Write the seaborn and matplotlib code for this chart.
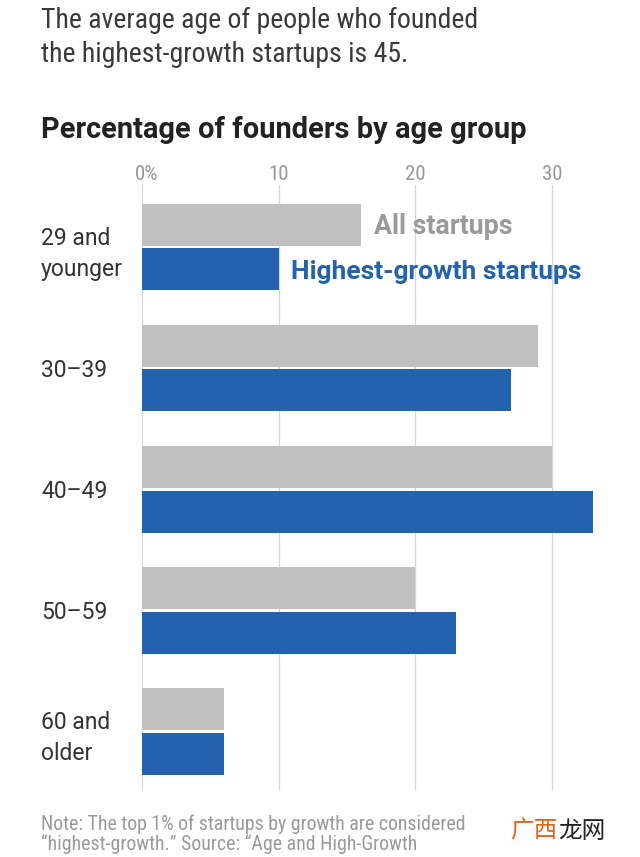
import matplotlib
matplotlib.use("Agg")
import matplotlib.pyplot as plt
from matplotlib.transforms import ScaledTranslation
import seaborn as sns
import pandas as pd

# ---- data ----
age_groups = ["29 and\nyounger", "30–39", "40–49", "50–59", "60 and\nolder"]
series_names = ["All startups", "Highest-growth startups"]
all_startups = [16, 29, 30, 20, 6]
highest_growth = [10, 27, 33, 23, 6]
x_ticks = [0, 10, 20, 30]
x_tick_labels = ["0%", "10", "20", "30"]

df = pd.DataFrame({
    "group": age_groups * 2,
    "series": [series_names[0]] * len(age_groups) + [series_names[1]] * len(age_groups),
    "value": all_startups + highest_growth,
})

sns.set_theme(style="white")
COND = ["Roboto Condensed", "DejaVu Sans"]
WIDE = ["Roboto", "DejaVu Sans"]
plt.rcParams["font.family"] = COND

GRAY = "#c0c0c0"
BLUE = "#2362ad"

W, H = 640, 857
fig = plt.figure(figsize=(W / 100, H / 100), dpi=100)

px_per_unit = 13.67
xmax = 34
ax = fig.add_axes([142 / W, 1 - 790 / H, xmax * px_per_unit / W, (790 - 185) / H])

sns.barplot(data=df, y="group", x="value", hue="series", orient="h",
            palette=[GRAY, BLUE], saturation=1, width=0.735, gap=0.056,
            legend=False, ax=ax, linewidth=0)

ax.set_xlim(0, xmax)
ax.set_ylim(4.483, -0.512)
ax.set_xlabel("")
ax.set_ylabel("")
for s in ax.spines.values():
    s.set_visible(False)

ax.set_xticks(x_ticks)
ax.set_xticklabels(x_tick_labels)
ax.xaxis.tick_top()
ax.tick_params(axis="x", length=0, pad=0.5, labelsize=15, labelcolor="#999999")
ax.grid(axis="x", color="#d6d6d6", linewidth=0.9)
ax.grid(axis="y", visible=False)
ax.set_axisbelow(True)

lbl0 = ax.get_xticklabels()[0]
lbl0.set_horizontalalignment("left")
lbl0.set_transform(lbl0.get_transform() + ScaledTranslation(-5 / 72, 0, fig.dpi_scale_trans))

ax.tick_params(axis="y", length=0, pad=(142 - 41) * 0.72, labelsize=16.5, labelcolor="#333333")
for t in ax.get_yticklabels():
    t.set_horizontalalignment("left")
    t.set_linespacing(1.45)
    t.set_family(WIDE)

# in-plot series labels next to the first group's bars
ax.annotate(series_names[0], xy=(all_startups[0], 0 - 0.1875), xytext=(1.0 * px_per_unit * 0.72, -6.8),
            textcoords="offset points", va="baseline", ha="left", fontsize=19.3,
            fontweight="bold", color="#9a9a9a", family=WIDE)
ax.annotate(series_names[1], xy=(highest_growth[0], 0 + 0.1875), xytext=(0.9 * px_per_unit * 0.72, -6.8),
            textcoords="offset points", va="baseline", ha="left", fontsize=19.0,
            fontweight="bold", color=BLUE, family=WIDE)

# titles
fig.text(41 / W, 1 - 28 / H, "The average age of people who founded", fontsize=20,
         color="#3a3a3a", va="baseline", ha="left")
fig.text(41 / W, 1 - 62 / H, "the highest-growth startups is 45.", fontsize=20,
         color="#3a3a3a", va="baseline", ha="left")
fig.text(41 / W, 1 - 138 / H, "Percentage of founders by age group", fontsize=20.9,
         fontweight="bold", color="#222222", va="baseline", ha="left", family=WIDE)

# note
fig.text(41 / W, 1 - 830 / H, "Note: The top 1% of startups by growth are considered",
         fontsize=14.3, color="#9a9a9a", va="baseline", ha="left")
fig.text(41 / W, 1 - 850 / H, "“highest-growth.” Source: “Age and High-Growth",
         fontsize=14.3, color="#9a9a9a", va="baseline", ha="left")

# watermark
fig.text(510 / W, 1 - 838 / H, "广西", fontsize=17, color="#e0621c",
         family=["Noto Sans CJK SC", "DejaVu Sans"], va="baseline", ha="left")
fig.text(558 / W, 1 - 838 / H, "龙网", fontsize=17, color="#222222",
         family=["Noto Sans CJK SC", "DejaVu Sans"], va="baseline", ha="left")

fig.savefig("out.png", dpi=100)
